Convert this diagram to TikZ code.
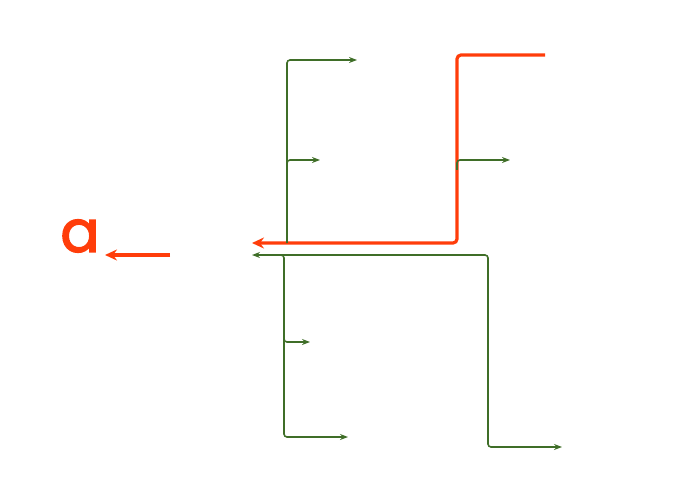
\documentclass[tikz,border=0pt]{standalone}
\usepackage{fontspec}
\setmainfont{Poppins}
\newfontfamily\pa{Poppins}[FakeBold=2.5]
\usetikzlibrary{arrows.meta}
\definecolor{og}{HTML}{FF3D0A}
\definecolor{gr}{HTML}{3F6E28}
\begin{document}
\begin{tikzpicture}[x=1pt,y=-1pt,
  g/.style={draw=gr,line width=1.6pt,rounded corners=3pt,-{Stealth[length=8pt,width=6pt]}},
  o/.style={draw=og,line width=3.2pt,rounded corners=4pt,-{Stealth[length=12pt,width=11pt]}}]
\useasboundingbox (0,0) rectangle (690,497);
\node[text=og,font=\fontsize{58}{58}\pa,inner sep=0] (a) at (80,236) {a};
\coordinate (s) at (170,255);
\coordinate (sa) at (105,255);
\draw[o] (s) -- (sa);
% orange path
\coordinate (o1) at (545,55);
\coordinate (o2) at (252,243);
\draw[o] (o1) -- (457,55) -- (457,243) -- (o2);
% green top
\coordinate (t1) at (357,60);
\coordinate (t2) at (320,160);
\draw[g] (287,243) -- (287,60) -- (t1);
\draw[g] (287,170) -- (287,160) -- (t2);
\coordinate (t3) at (510,160);
\draw[g] (457,170) -- (457,160) -- (t3);
% green bottom
\coordinate (b0) at (252,255);
\draw[g] (488,420) -- (488,255) -- (b0);
\coordinate (b1) at (562,447);
\draw[g] (488,420) -- (488,447) -- (b1);
\coordinate (b2) at (348,437);
\draw[g] (276,255) -- (284,255) -- (284,437) -- (b2);
\coordinate (b3) at (310,342);
\draw[g] (284,330) -- (284,342) -- (b3);
\end{tikzpicture}
\end{document}
